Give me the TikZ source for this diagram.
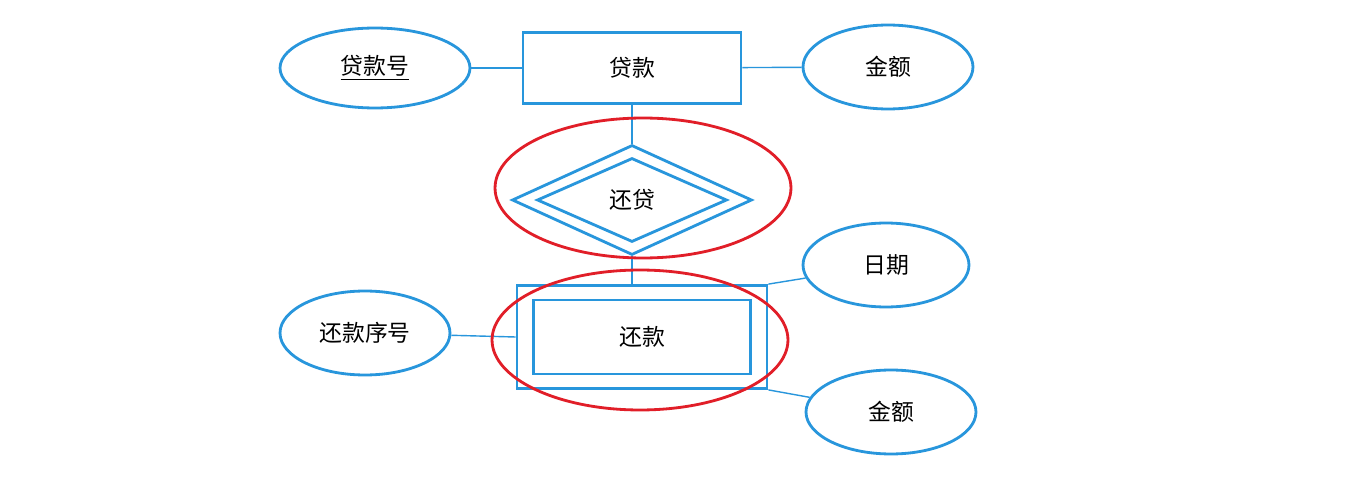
\documentclass[tikz,border=0pt]{standalone}
\usepackage{fontspec}
\newfontfamily\cjk{Noto Sans CJK SC}
\usetikzlibrary{shapes.geometric}
\definecolor{erblue}{RGB}{40,150,220}
\definecolor{erred}{RGB}{225,30,40}
\tikzset{
  attr/.style={ellipse,draw=erblue,line width=1.6pt,inner sep=0pt},
  ent/.style={rectangle,draw=erblue,line width=1.6pt,inner sep=0pt},
  rel/.style={diamond,draw=erblue,line width=1.6pt,inner sep=0pt},
  hilite/.style={ellipse,draw=erred,line width=1.6pt,inner sep=0pt},
  link/.style={erblue,line width=0.8pt}
}
\begin{document}
\begin{tikzpicture}[x=0.02cm,y=-0.02cm,font=\cjk\fontsize{13}{15}\selectfont]
    \useasboundingbox[fill=white] (0,0) rectangle (1367,483);
    % top entity and its attributes
    \node[ent,minimum width=4.36cm,minimum height=1.42cm] (loan) at (632,68) {贷款};
    \node[attr,minimum width=3.8cm,minimum height=1.6cm] (loanno) at (375,68) {\underline{贷款号}};
    \node[attr,minimum width=3.4cm,minimum height=1.68cm] (amt1) at (888,67) {金额};
    % weak relationship
    \node[rel,minimum width=4.8cm,minimum height=2.2cm] (repayrel) at (632,200) {};
    \node[rel,minimum width=3.8cm,minimum height=1.68cm] (repayin) at (632,200) {还贷};
    % weak entity
    \node[ent,minimum width=5cm,minimum height=2.06cm] (pay) at (642,337) {};
    \node[ent,minimum width=4.34cm,minimum height=1.48cm] (payin) at (642,337) {还款};
    \node[attr,minimum width=3.4cm,minimum height=1.68cm] (payno) at (365,333) {还款序号};
    \node[attr,minimum width=3.32cm,minimum height=1.68cm] (date) at (886,265) {日期};
    \node[attr,minimum width=3.4cm,minimum height=1.68cm] (amt2) at (891,412) {金额};
    % connectors
    \draw[link] (loanno) -- (loan);
    \draw[link] (loan) -- (amt1);
    \draw[link] (loan.south) -- (repayrel.north);
    \draw[link] (repayrel.south) -- (repayrel.south |- pay.north);
    \draw[link] (payno) -- (pay.west);
    \draw[link] (pay.north east) -- (date);
    \draw[link] (pay.south east) -- (amt2);
    % red highlights
    \node[hilite,minimum width=5.92cm,minimum height=2.8cm] (hl1) at (643,188) {};
    \node[hilite,minimum width=5.92cm,minimum height=2.8cm] (hl2) at (640,340) {};
\end{tikzpicture}
\end{document}
